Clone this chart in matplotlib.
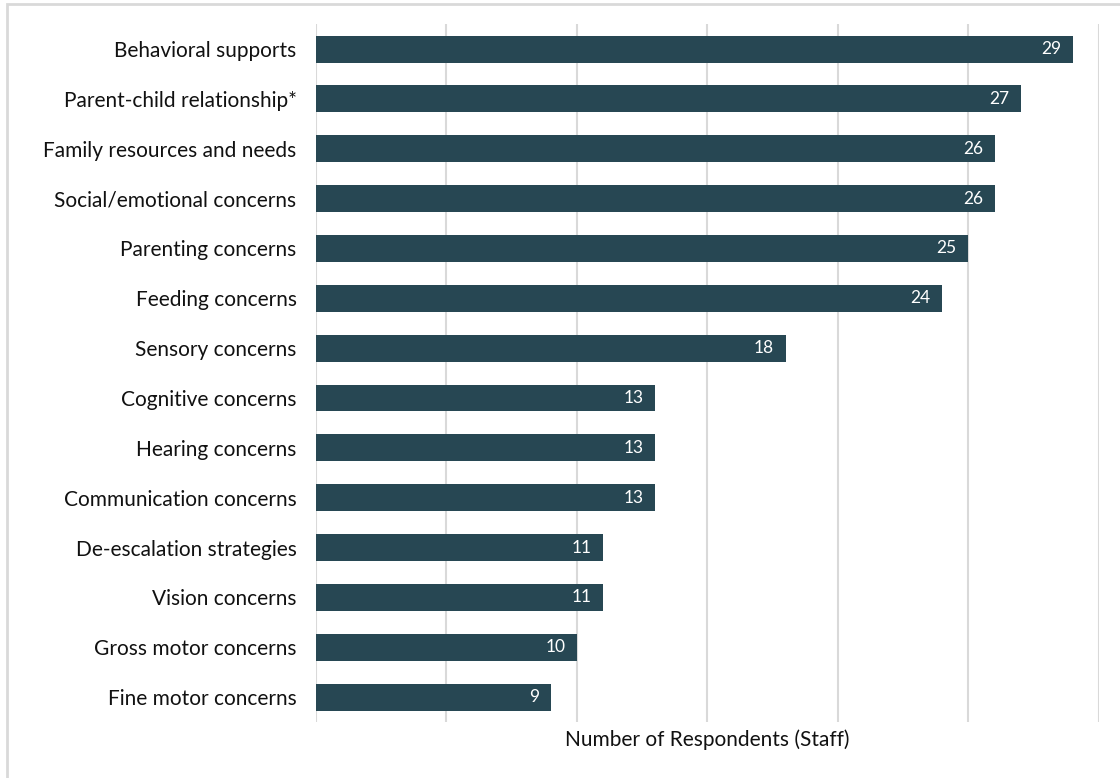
import matplotlib
matplotlib.use('Agg')
import matplotlib.pyplot as plt
from matplotlib.patches import Rectangle

categories = ['Behavioral supports', 'Parent-child relationship*', 'Family resources and needs',
              'Social/emotional concerns', 'Parenting concerns', 'Feeding concerns',
              'Sensory concerns', 'Cognitive concerns', 'Hearing concerns',
              'Communication concerns', 'De-escalation strategies', 'Vision concerns',
              'Gross motor concerns', 'Fine motor concerns']
values = [29, 27, 26, 26, 25, 24, 18, 13, 13, 13, 11, 11, 10, 9]

bar_color = '#274753'
plt.rcParams['font.family'] = ['Lato', 'DejaVu Sans']

fig = plt.figure(figsize=(11.2, 7.78), dpi=100)
ax = fig.add_axes([0.2821, 0.072, 0.6991, 0.897])

ypos = list(range(len(categories)))
ax.barh(ypos, values, height=0.54, color=bar_color, zorder=3)
for y, v in zip(ypos, values):
	ax.text(v - 0.45, y, str(v), color='white', ha='right', va='center', fontsize=12.5, zorder=4)

ax.set_xlim(0, 30)
ax.set_ylim(len(categories) - 0.5, -0.5)
ax.set_xticks(range(0, 31, 5))
ax.set_xticklabels([])
ax.set_yticks(ypos)
ax.set_yticklabels(categories, fontsize=15, color='#111111')
ax.tick_params(length=0)
ax.tick_params(axis='y', pad=14)
ax.tick_params(axis='x', pad=0)
ax.grid(axis='x', color='#d9d9d9', linewidth=1.5, zorder=0)
for s in ax.spines.values():
	s.set_visible(False)
ax.set_xlabel('Number of Respondents (Staff)', fontsize=15, color='#111111', labelpad=5)

# outer frame of the original figure box
fig.patches.append(Rectangle((6.5/1120, -0.1), 1.2, 1.1 - 4.5/778, transform=fig.transFigure,
	fill=False, edgecolor='#d9d9d9', linewidth=2))

plt.savefig('out.png', dpi=100)
plt.close()
